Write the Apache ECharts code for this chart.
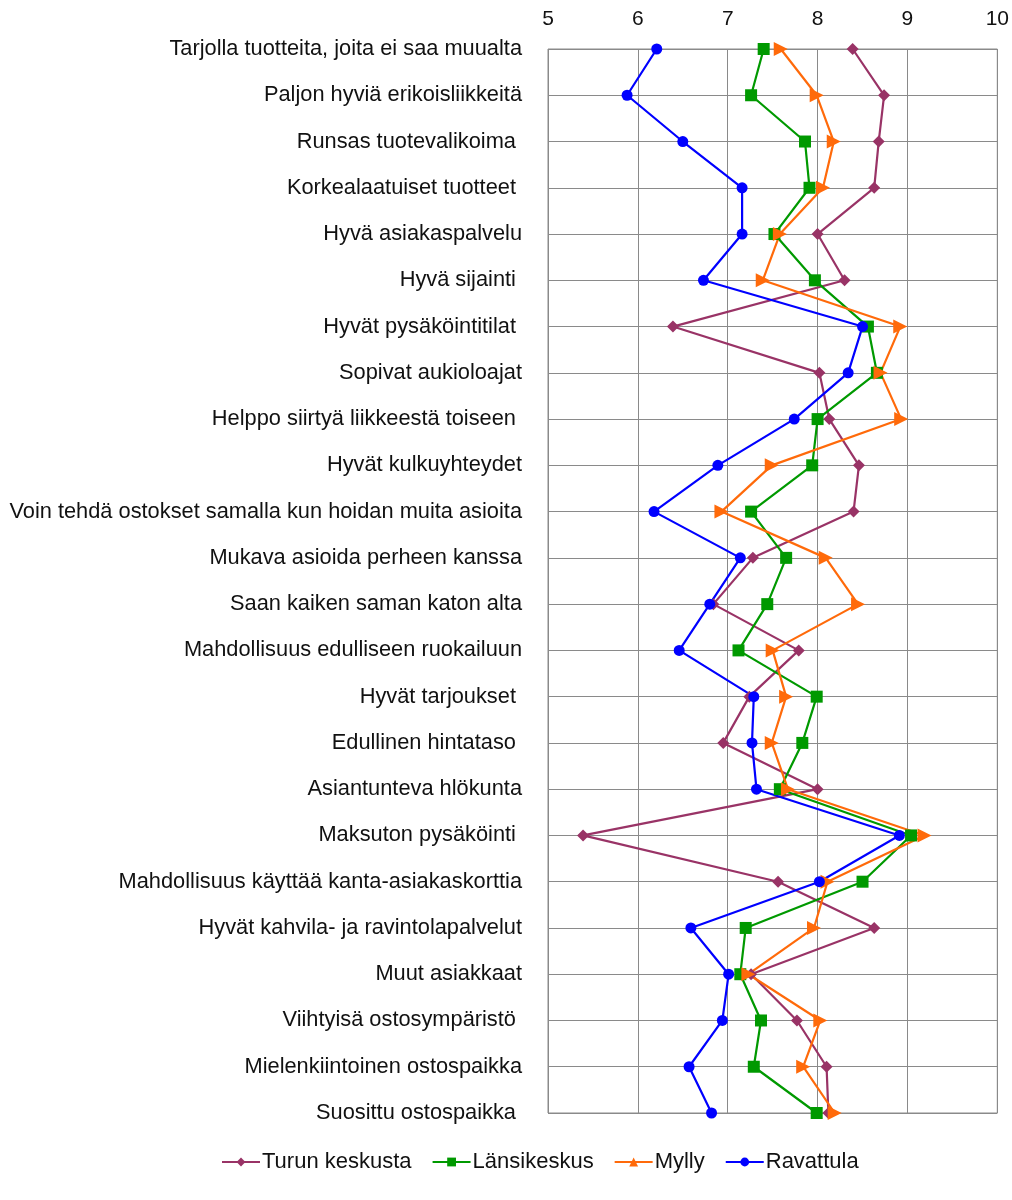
<!DOCTYPE html>
<html>
<head>
<meta charset="utf-8">
<script src="https://cdn.jsdelivr.net/npm/echarts@6/dist/echarts.min.js"></script>
<style>
  html, body { margin: 0; padding: 0; background: #fff; }
  #chart { width: 1012px; height: 1200px; }
</style>
</head>
<body>
<div id="chart"></div>
<script>
// Ostospaikan ominaisuuksien arviot (asteikko 5–10)
const categories = [
  'Tarjolla tuotteita, joita ei saa muualta',
  'Paljon hyviä erikoisliikkeitä',
  'Runsas tuotevalikoima ',
  'Korkealaatuiset tuotteet ',
  'Hyvä asiakaspalvelu',
  'Hyvä sijainti ',
  'Hyvät pysäköintitilat ',
  'Sopivat aukioloajat',
  'Helppo siirtyä liikkeestä toiseen ',
  'Hyvät kulkuyhteydet',
  'Voin tehdä ostokset samalla kun hoidan muita asioita',
  'Mukava asioida perheen kanssa',
  'Saan kaiken saman katon alta',
  'Mahdollisuus edulliseen ruokailuun',
  'Hyvät tarjoukset ',
  'Edullinen hintataso ',
  'Asiantunteva hlökunta',
  'Maksuton pysäköinti ',
  'Mahdollisuus käyttää kanta-asiakaskorttia',
  'Hyvät kahvila- ja ravintolapalvelut',
  'Muut asiakkaat',
  'Viihtyisä ostosympäristö ',
  'Mielenkiintoinen ostospaikka',
  'Suosittu ostospaikka '
];

const turunKeskusta = [8.39, 8.74, 8.68, 8.63, 8.00, 8.30, 6.39, 8.02, 8.13, 8.46, 8.40, 7.28,
                       6.84, 7.79, 7.24, 6.95, 8.00, 5.39, 7.56, 8.63, 7.26, 7.77, 8.10, 8.12];
const lansikeskus   = [7.40, 7.26, 7.86, 7.91, 7.52, 7.97, 8.56, 8.66, 8.00, 7.94, 7.26, 7.65,
                       7.44, 7.12, 7.99, 7.83, 7.58, 9.04, 8.50, 7.20, 7.14, 7.37, 7.29, 7.99];
const mylly         = [7.59, 7.99, 8.18, 8.06, 7.58, 7.39, 8.92, 8.70, 8.93, 7.49, 6.93, 8.09,
                       8.45, 7.50, 7.65, 7.49, 7.67, 9.19, 8.11, 7.96, 7.23, 8.03, 7.84, 8.19];
const ravattula     = [6.21, 5.88, 6.50, 7.16, 7.16, 6.73, 8.50, 8.34, 7.74, 6.89, 6.18, 7.14,
                       6.80, 6.46, 7.29, 7.27, 7.32, 8.91, 8.02, 6.59, 7.01, 6.94, 6.57, 6.82];

const seriesNames = ['Turun keskusta', 'Länsikeskus', 'Mylly', 'Ravattula'];
const scaleMin = 5;
const scaleMax = 10;

const FONT = '"Liberation Sans", Arial, sans-serif';

function lineSeries(name, values, color, symbol, size, rotate) {
  return {
    name: name,
    type: 'line',
    data: values,
    symbol: symbol,
    symbolSize: size,
    symbolRotate: rotate || 0,
    showSymbol: true,
    lineStyle: { color: color, width: 2.2 },
    itemStyle: { color: color },
    emphasis: { disabled: true },
    animation: false
  };
}

const chart = echarts.init(document.getElementById('chart'), null, { renderer: 'canvas' });

chart.setOption({
  backgroundColor: '#ffffff',
  animation: false,
  textStyle: { fontFamily: FONT, color: '#000' },
  grid: {
    left: 548,
    right: 14,
    top: 49,
    bottom: 87,
    show: true,
    borderColor: '#8a8a8a',
    borderWidth: 1
  },
  xAxis: {
    type: 'value',
    position: 'top',
    min: scaleMin,
    max: scaleMax,
    interval: 1,
    axisLine: { show: false },
    axisTick: { show: false },
    axisLabel: { fontSize: 21, color: '#111', fontFamily: FONT, margin: 19 },
    splitLine: { show: true, lineStyle: { color: '#8a8a8a', width: 1 } }
  },
  yAxis: {
    type: 'category',
    data: categories,
    inverse: true,
    boundaryGap: false,
    axisLine: { show: false },
    axisTick: { show: false },
    axisLabel: { fontSize: 21.8, color: '#111', fontFamily: FONT, margin: 26, interval: 0 },
    splitLine: { show: true, lineStyle: { color: '#8a8a8a', width: 1 } }
  },
  legend: {
    bottom: 22,
    left: 216,
    itemWidth: 38,
    itemHeight: 11,
    itemGap: 20,
    symbolRotate: 0,
    textStyle: { fontSize: 22, color: '#111', fontFamily: FONT, padding: [0, 0, 0, -3] },
    data: seriesNames
  },
  series: [
    lineSeries(seriesNames[0], turunKeskusta, '#993366', 'diamond', 12),
    lineSeries(seriesNames[1], lansikeskus, '#009900', 'rect', 12),
    lineSeries(seriesNames[2], mylly, '#ff6a0a', 'triangle', 14, -90),
    lineSeries(seriesNames[3], ravattula, '#0000ff', 'circle', 11)
  ]
});
</script>
</body>
</html>
